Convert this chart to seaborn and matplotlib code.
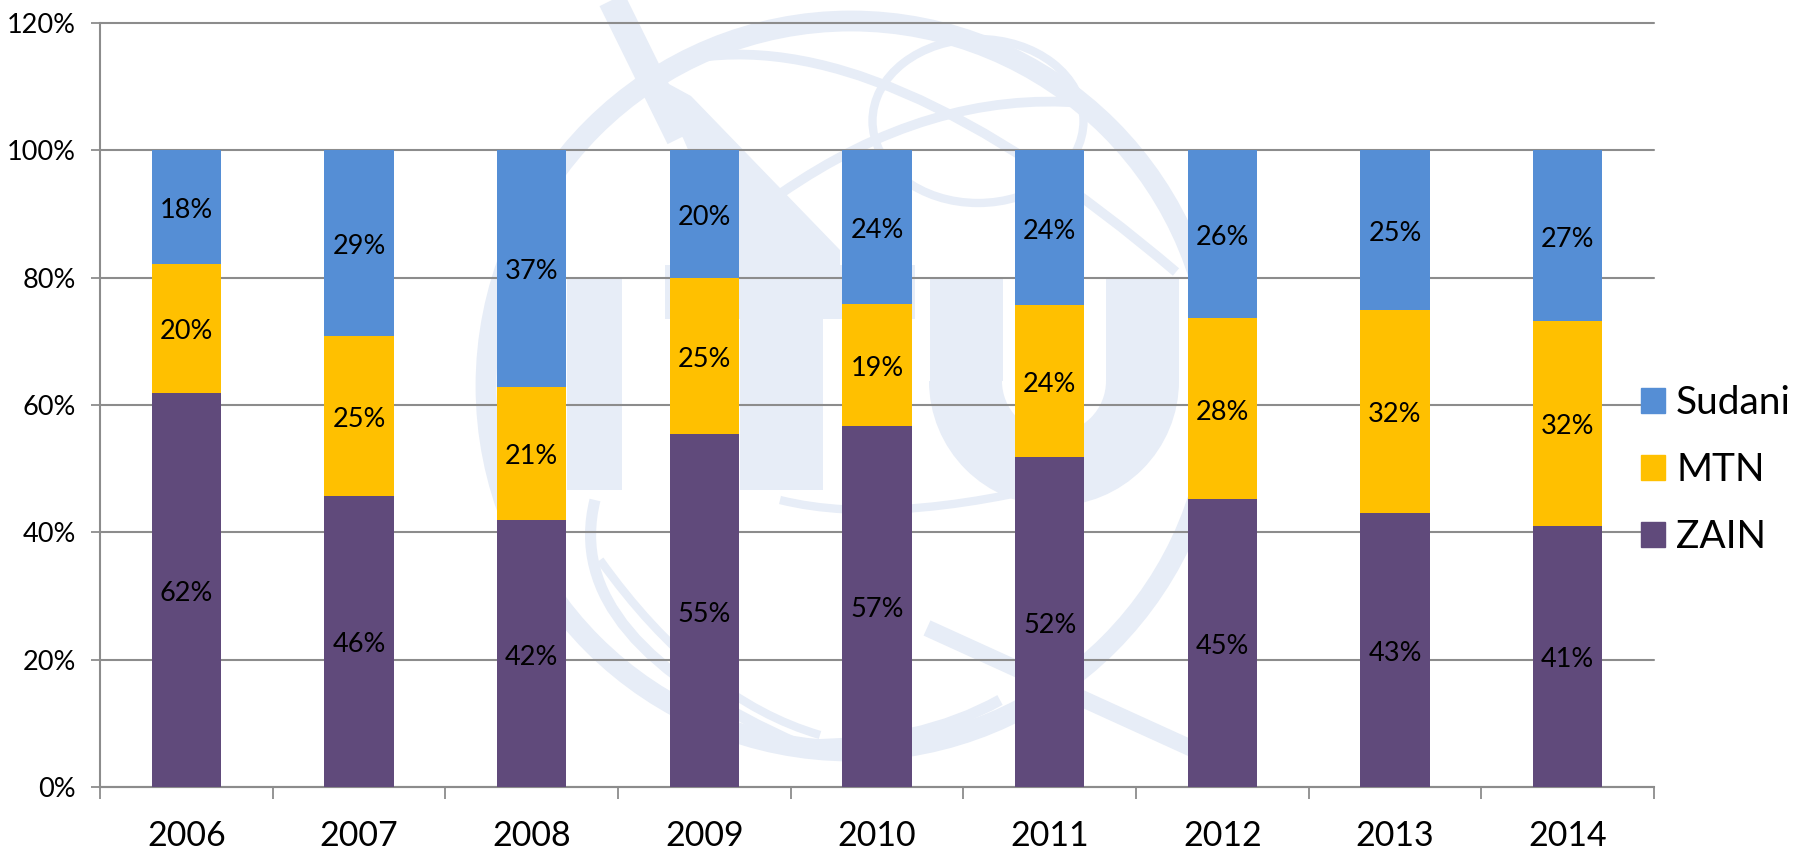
import matplotlib
matplotlib.use("Agg")
import matplotlib.pyplot as plt
from matplotlib.patches import Patch, Circle, Ellipse, Rectangle, Wedge, Polygon, PathPatch
from matplotlib.path import Path
import pandas as pd
import seaborn as sns

years = ["2006", "2007", "2008", "2009", "2010", "2011", "2012", "2013", "2014"]
zain = [61.9, 45.7, 41.9, 55.4, 56.7, 51.8, 45.2, 43.0, 41.0]
mtn = [20.3, 25.2, 21.0, 24.6, 19.2, 23.9, 28.4, 32.0, 32.2]
sudani = [17.8, 29.1, 37.1, 20.0, 24.1, 24.3, 26.4, 25.0, 26.8]
ticks = [0, 20, 40, 60, 80, 100, 120]

sns.set_theme(style="white")
plt.rcParams["font.family"] = ["Lato", "DejaVu Sans"]

W, H = 1795, 849
grid_col = "#8c8c8c"
mark_col = "#e7edf7"

fig = plt.figure(figsize=(W / 100, H / 100), dpi=100)

# faint logo behind the chart, in pixel coordinates
bg = fig.add_axes([0, 0, 1, 1], zorder=0)
bg.set_xlim(0, W)
bg.set_ylim(H, 0)
bg.axis("off")


def curve(pts, lw):
    # smooth line through control points
    codes = [Path.MOVETO] + [Path.CURVE3] * (len(pts) - 1)
    bg.add_patch(PathPatch(Path(pts, codes), fill=False, ec=mark_col, lw=lw, capstyle="butt"))


bg.add_patch(Circle((851, 386), 365, fill=False, ec=mark_col, lw=15))

# letters
bg.add_patch(Rectangle((567, 278), 55, 212, fc=mark_col, ec="none"))
bg.add_patch(Rectangle((665, 265), 250, 54, fc=mark_col, ec="none"))
bg.add_patch(Rectangle((740, 265), 83, 225, fc=mark_col, ec="none"))
bg.add_patch(Rectangle((930, 278), 73, 103, fc=mark_col, ec="none"))
bg.add_patch(Rectangle((1106, 278), 73, 103, fc=mark_col, ec="none"))
bg.add_patch(Wedge((1054, 381), 125, 0, 180, width=73, fc=mark_col, ec="none"))

# globe lines
bg.add_patch(Ellipse((978, 121), 211, 164, fill=False, ec=mark_col, lw=6))
curve([(683, 60), (880, 20), (1176, 272)], 7)
curve([(780, 194), (930, 90), (1084, 103)], 7)
curve([(595, 500), (560, 640), (800, 745)], 8)
curve([(800, 745), (920, 745), (1000, 700)], 8)
curve([(600, 560), (700, 700), (820, 735)], 6)
curve([(780, 500), (900, 530), (1110, 470)], 6)
bg.plot([612, 680], [0, 138], color=mark_col, lw=20, solid_capstyle="butt")
bg.add_patch(Polygon([(634, 65), (691, 96), (840, 250), (840, 270), (740, 270),
                      (683, 138), (650, 85)], fc=mark_col, ec="none"))
bg.plot([927, 1250], [628, 775], color=mark_col, lw=12, solid_capstyle="butt")

ax = fig.add_axes([100 / W, 1 - 787 / H, 1554 / W, 764 / H], zorder=1)
ax.patch.set_alpha(0)

df = pd.DataFrame({"year": years, "ZAIN": zain, "MTN": mtn, "Sudani": sudani})
colors = {"ZAIN": "#604a7b", "MTN": "#ffc000", "Sudani": "#558ed5"}

bottom = [0] * len(years)
for name in ["ZAIN", "MTN", "Sudani"]:
    sns.barplot(data=df, x="year", y=name, color=colors[name], saturation=1,
                width=0.4, bottom=bottom, linewidth=0, ax=ax, zorder=3)
    for i, v in enumerate(df[name]):
        ax.annotate(f"{round(v)}%", (i, bottom[i] + v / 2), xytext=(0, -2.5),
                    textcoords="offset points", ha="center", va="center",
                    fontsize=19.5, color="black", zorder=4)
    bottom = [b + v for b, v in zip(bottom, df[name])]

ax.set_xlim(-0.5, 8.5)
ax.set_ylim(0, 120)
ax.set_yticks(ticks)
ax.set_yticklabels([f"{t}%" for t in ticks], fontsize=19.5, color="black")
ax.set_xlabel("")
ax.set_ylabel("")
ax.yaxis.grid(True, color=grid_col, lw=1.5, zorder=1)
ax.set_axisbelow(True)
for line in ax.get_ygridlines():
    line.set_clip_on(False)

# tick marks sit on the category boundaries, labels stay centred
ax.set_xticks([i - 0.5 for i in range(10)], minor=True)
ax.tick_params(axis="x", which="minor", length=8.5, width=1.3, color=grid_col, bottom=True)
ax.tick_params(axis="x", which="major", length=0, labelsize=24.5, pad=24, labelcolor="black")
ax.tick_params(axis="y", length=6.5, width=1.3, color=grid_col, left=True, pad=11)

sns.despine(ax=ax, top=True, right=True)
ax.spines["left"].set_color(grid_col)
ax.spines["left"].set_linewidth(1.5)
ax.spines["bottom"].set_color(grid_col)
ax.spines["bottom"].set_linewidth(1.5)

handles = [Patch(color=colors[n], label=n) for n in ["Sudani", "MTN", "ZAIN"]]
leg = ax.legend(handles=handles, loc="center left", bbox_to_anchor=(1641 / W, 1 - 470 / H),
                bbox_transform=fig.transFigure, frameon=False, fontsize=28,
                handlelength=0.62, handleheight=0.62, handletextpad=0.28,
                labelspacing=0.8, borderaxespad=0, borderpad=0, labelcolor="black")

fig.savefig("out.png", dpi=100)
